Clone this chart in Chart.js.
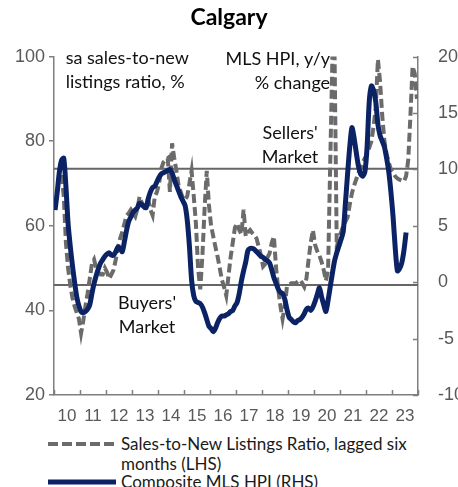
<!DOCTYPE html>
<html>
<head>
<meta charset="utf-8">
<script src="https://cdn.jsdelivr.net/npm/chart.js@4.4.1/dist/chart.umd.min.js"></script>
<style>
  html, body { margin: 0; padding: 0; background: #fff; }
  #wrap { position: relative; width: 458px; height: 487px; overflow: hidden; }
  #chart { position: absolute; left: 0; top: 0; }
  .lg { position: absolute; font-family: Lato, sans-serif; font-size: 17px; color: #1a1a1a; line-height: 20px; white-space: nowrap; }
  .sw { position: absolute; }
</style>
</head>
<body>
<div id="wrap">
  <canvas id="chart" width="458" height="430"></canvas>
  <svg class="sw" style="left:48px; top:439px" width="68" height="10">
    <line x1="0" y1="5" x2="68" y2="5" stroke="#6b6b6b" stroke-width="4" stroke-dasharray="10 4"/>
  </svg>
  <div class="lg" style="left:121px; top:434px">Sales-to-New Listings Ratio, lagged six<br>months (LHS)</div>
  <svg class="sw" style="left:48px; top:477px" width="68" height="10">
    <line x1="0" y1="5" x2="68" y2="5" stroke="#0b2265" stroke-width="5"/>
  </svg>
  <div class="lg" style="left:121px; top:472px">Composite MLS HPI (RHS)</div>
</div>
<script>
// year labels shown under the axis
const yearLabels = ['10', '11', '12', '13', '14', '15', '16', '17', '18', '19', '20', '21', '22', '23'];

// Composite MLS HPI, y/y % change (RHS), monthly from Jan 2010
const hpiStart = '2010-01';
const hpiValues = [
  6.4, 8.0, 9.8, 10.8, 11.0, 8.5, 5.2, 3.2, 1.5, 0.0, -1.3, -2.1,
  -2.6, -2.7, -2.6, -2.4, -2.0, -1.0, -0.1, 0.6, 1.2, 1.7, 2.0, 2.3,
  2.5, 2.6, 2.4, 2.4, 2.7, 3.1, 3.0, 2.7, 3.6, 4.6, 5.4, 5.8,
  6.2, 6.4, 6.6, 7.0, 6.9, 6.7, 6.6, 7.4, 8.0, 8.4, 8.5, 8.9,
  9.3, 9.6, 9.7, 9.8, 9.9, 10.0, 9.7, 9.1, 8.6, 8.1, 7.6, 7.2,
  6.8, 5.5, 3.2, 0.2, -1.2, -1.7, -1.8, -1.9, -2.2, -2.7, -3.3, -3.9,
  -4.1, -4.4, -4.1, -3.6, -3.2, -3.0, -3.0, -2.9, -2.8, -2.6, -2.5, -2.1,
  -1.8, -1.0, 0.1, 1.0, 1.8, 2.8, 3.0, 3.0, 2.9, 2.7, 2.5, 2.3,
  2.2, 2.0, 1.9, 1.7, 1.1, 0.4, -0.1, -0.6, -0.9, -1.0, -1.5, -2.4,
  -3.1, -3.3, -3.5, -3.6, -3.4, -3.3, -3.1, -2.8, -2.4, -2.3, -2.5, -2.2,
  -1.7, -1.1, -0.5, -1.3, -2.0, -2.6, -1.6, -0.4, 0.8, 1.9, 2.6, 3.2,
  3.8, 4.5, 7.0, 9.6, 12.0, 13.7, 12.8, 11.5, 10.3, 9.6, 9.4, 9.8,
  12.0, 16.0, 17.4, 17.0, 16.0, 14.0, 13.0, 12.5, 12.0, 11.0, 9.8, 8.0,
  5.8, 3.0, 1.0, 1.2, 1.7, 2.8, 4.4
];

// sales-to-new listings ratio, lagged six months (LHS), monthly from Apr 2010
const snlrStart = '2010-04';
const snlrValues = [
  72, 67, 56, 50, 46, 43, 41, 39.5, 38,
  34.6, 37.5, 41, 44, 47.5, 51, 52, 50, 49, 48.5, 48.5, 50,
  49, 47.5, 48.5, 49.6, 52, 55, 57, 58.5, 60.5, 62.5, 63, 63.8,
  63, 62.2, 64, 66.9, 65.5, 64.6, 65.5, 66.2, 63.8, 62.5, 66.9, 68,
  70, 73.5, 75, 75.6, 76, 68, 79.5, 76, 73, 69.5, 68, 66.5,
  66.2, 67, 70, 73, 67, 60.5, 50, 45, 53, 64, 73, 65,
  60, 57.5, 55, 52.7, 50, 47.2, 45.5, 43.5, 48, 52.5, 56, 59.5,
  60.6, 59, 58, 63.8, 57.5, 58.5, 59, 58.3, 57.8, 57, 55, 53,
  50.4, 51, 52.5, 53.5, 56, 57.5, 50, 45, 41, 38, 41, 45.6,
  46, 46.4, 46.4, 46.4, 46.8, 47.2, 46.5, 45.6, 47.5, 52, 56, 59,
  55.5, 54, 53, 51.5, 49.5, 47, 49.6, 75, 100, 100, 55, 57,
  58.5, 60, 61, 62, 65, 67.7, 69.5, 71, 72.5, 73.5, 75, 76,
  77, 78.5, 80, 83.5, 88, 99.3, 94, 86, 80, 77, 75, 73.3,
  72.5, 71.7, 71.2, 70.9, 70.7, 70.5, 71.7, 75.6, 86, 97.7, 96, 90
];

// market thresholds on the ratio (LHS)
const sellersLevel = 73.5;
const buyersLevel = 46;

const axisGray = '#7f7f7f';
const tickGray = '#595959';
const navy = '#0b2265';

function toPoints(start, values) {
  const [y0, m0] = start.split('-').map(Number);
  return values.map((v, i) => ({ x: y0 + (m0 - 1 + i + 0.5) / 12, y: v }));
}

const overlay = {
  id: 'overlay',
  afterDraw(chart) {
    const { ctx, chartArea, scales } = chart;
    ctx.save();
    ctx.strokeStyle = axisGray;
    ctx.lineWidth = 1.5;
    ctx.beginPath();
    // inward tick marks on the bottom axis, at year boundaries
    for (let yr = 2010; yr <= 2024; yr++) {
      const px = Math.round(scales.x.getPixelForValue(yr)) + 0.5;
      ctx.moveTo(px, chartArea.bottom);
      ctx.lineTo(px, chartArea.bottom - 5);
    }
    // inward tick marks on the right axis
    scales.y1.ticks.forEach(t => {
      const py = Math.round(scales.y1.getPixelForValue(t.value)) + 0.5;
      ctx.moveTo(chartArea.right, py);
      ctx.lineTo(chartArea.right - 5, py);
    });
    ctx.stroke();

    // text notes placed in data units
    ctx.fillStyle = '#111';
    ctx.font = '18px Lato, sans-serif';
    ctx.textBaseline = 'middle';
    const notes = [
      { x: 2010.45, lines: [[99.6, 'sa sales-to-new'], [94.0, 'listings ratio, %']], align: 'left' },
      { x: 2020.62, lines: [[99.3, 'MLS HPI, y/y'], [93.6, '% change']], align: 'right' },
      { x: 2019.08, lines: [[82.0, "Sellers'"], [76.3, 'Market']], align: 'center' },
      { x: 2013.58, lines: [[41.8, "Buyers'"], [36.1, 'Market']], align: 'center' }
    ];
    notes.forEach(n => {
      ctx.textAlign = n.align;
      const px = scales.x.getPixelForValue(n.x);
      n.lines.forEach(([v, txt]) => ctx.fillText(txt, px, scales.y.getPixelForValue(v)));
    });
    ctx.restore();
  }
};

new Chart(document.getElementById('chart'), {
  type: 'line',
  data: {
    datasets: [
      {
        label: 'Composite MLS HPI (RHS)',
        data: toPoints(hpiStart, hpiValues),
        xAxisID: 'x', yAxisID: 'y1',
        borderColor: navy, borderWidth: 5,
        tension: 0.25, pointRadius: 0, order: 0
      },
      {
        label: 'Sales-to-New Listings Ratio, lagged six months (LHS)',
        data: toPoints(snlrStart, snlrValues),
        xAxisID: 'x', yAxisID: 'y',
        borderColor: '#6b6b6b', borderWidth: 4, borderDash: [9, 4],
        tension: 0, pointRadius: 0, order: 1
      },
      {
        label: 'sellers',
        data: [{ x: 2010, y: sellersLevel }, { x: 2024, y: sellersLevel }],
        xAxisID: 'x', yAxisID: 'y',
        borderColor: '#666', borderWidth: 2, pointRadius: 0, order: 2
      },
      {
        label: 'buyers',
        data: [{ x: 2010, y: buyersLevel }, { x: 2024, y: buyersLevel }],
        xAxisID: 'x', yAxisID: 'y',
        borderColor: '#666', borderWidth: 2, pointRadius: 0, order: 2
      }
    ]
  },
  options: {
    responsive: false,
    animation: false,
    layout: { padding: 0 },
    plugins: {
      legend: { display: false },
      tooltip: { enabled: false },
      title: {
        display: true, text: 'Calgary', color: '#000',
        font: { family: 'Lato, sans-serif', size: 23, weight: 'bold' },
        padding: { top: 4, bottom: 25 }
      }
    },
    scales: {
      x: { type: 'linear', min: 2010, max: 2024, display: false },
      xl: {
        type: 'category', labels: yearLabels, position: 'bottom', offset: true,
        grid: { display: false },
        border: { display: true, color: axisGray, width: 1.5 },
        ticks: { color: tickGray, font: { family: 'Liberation Sans, sans-serif', size: 17 }, padding: 3, autoSkip: false, maxRotation: 0 },
        afterFit(s) { s.height = 35; }
      },
      y: {
        position: 'left', min: 20, max: 100,
        ticks: { stepSize: 20, color: tickGray, font: { family: 'Liberation Sans, sans-serif', size: 18 }, padding: 4 },
        grid: { drawOnChartArea: false, drawTicks: true, tickLength: 5, color: axisGray, lineWidth: 1.5 },
        border: { display: true, color: axisGray, width: 1.5 },
        afterFit(s) { s.width = 54; }
      },
      y1: {
        position: 'right', min: -10, max: 20,
        ticks: { stepSize: 5, color: tickGray, font: { family: 'Liberation Sans, sans-serif', size: 18 }, padding: 12 },
        grid: { display: false },
        border: { display: true, color: axisGray, width: 1.5 },
        afterFit(s) { s.width = 40; }
      }
    }
  },
  plugins: [overlay]
});
</script>
</body>
</html>
